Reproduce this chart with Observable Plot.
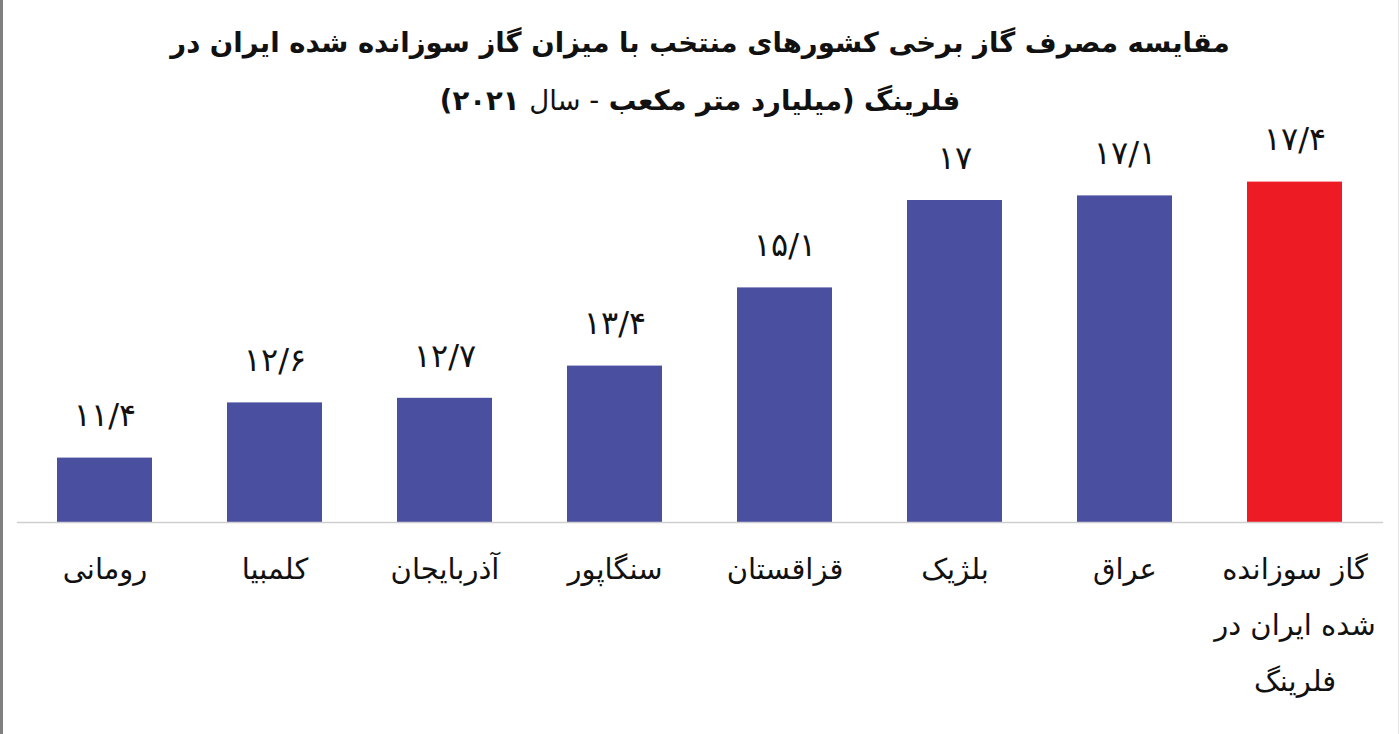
<!DOCTYPE html>
<html lang="fa">
<head>
<meta charset="utf-8">
<script src="https://cdn.jsdelivr.net/npm/d3@7"></script>
<script src="https://cdn.jsdelivr.net/npm/@observablehq/plot@0.6"></script>
<style>
  html, body { margin: 0; padding: 0; background: #fff; }
  #wrap { position: relative; width: 1400px; height: 734px; overflow: hidden; background: #fff; font-family: "DejaVu Sans", sans-serif; }
  #title { height: 110px; box-sizing: border-box; padding-top: 13px; text-align: center; direction: rtl; color: #111; }
  #title div { font-size: 27.5px; font-weight: bold; white-space: nowrap; }
  #title .l1 { line-height: 58px; }
  #title .l2 { line-height: 36px; margin-top: 11px; }
  #title .n { font-weight: normal; }
  #chart { position: relative; }
  #lb { position: absolute; left: 0; top: 0; width: 3px; height: 734px; background: #808080; }
  #rb { position: absolute; right: 1px; top: 0; width: 1px; height: 734px; background: #e6e6e6; }
</style>
</head>
<body>
<div id="wrap">
  <div id="title">
    <div class="l1">مقایسه مصرف گاز برخی کشورهای منتخب با میزان گاز سوزانده شده ایران در</div>
    <div class="l2">فلرینگ (میلیارد متر مکعب <span class="n">- سال</span> ۲۰۲۱)</div>
  </div>
  <div id="chart"></div>
  <div id="lb"></div>
  <div id="rb"></div>
</div>
<script>
const categories = [
  "رومانی",
  "کلمبیا",
  "آذربایجان",
  "سنگاپور",
  "قزاقستان",
  "بلژیک",
  "عراق",
  "گاز سوزانده\nشده ایران در\nفلرینگ"
];
const values = [11.4, 12.6, 12.7, 13.4, 15.1, 17, 17.1, 17.4];
const highlighted = "گاز سوزانده\nشده ایران در\nفلرینگ";
const yDomain = [10, 18];

const data = categories.map((c, i) => ({category: c, value: values[i]}));
const persianDigits = "۰۱۲۳۴۵۶۷۸۹";
const fmt = v => String(v).replace(".", "/").replace(/\d/g, d => persianDigits[+d]);

const chart = Plot.plot({
  width: 1400,
  height: 624,
  marginLeft: 17,
  marginRight: 17,
  marginTop: 44,
  marginBottom: 212,
  style: {fontFamily: "DejaVu Sans, sans-serif", background: "transparent", color: "#111", overflow: "visible"},
  x: {domain: categories, paddingInner: 0.44, paddingOuter: 0.22, label: null},
  y: {domain: yDomain, axis: null},
  marks: [
    Plot.barY(data, {
      x: "category",
      y1: yDomain[0],
      y2: "value",
      fill: d => d.category === highlighted ? "#ED1C24" : "#4A4F9F"
    }),
    Plot.ruleY([yDomain[0]], {stroke: "#cfcfcf", strokeWidth: 1.5}),
    Plot.text(data, {
      x: "category",
      y: "value",
      text: d => fmt(d.value),
      dy: -42,
      fontSize: 32,
      fill: "#111"
    }),
    Plot.axisX({
      tickSize: 0,
      tickPadding: 17,
      fontSize: 29,
      lineHeight: 1.93,
      fill: "#111"
    })
  ]
});
document.getElementById("chart").appendChild(chart);
</script>
</body>
</html>
